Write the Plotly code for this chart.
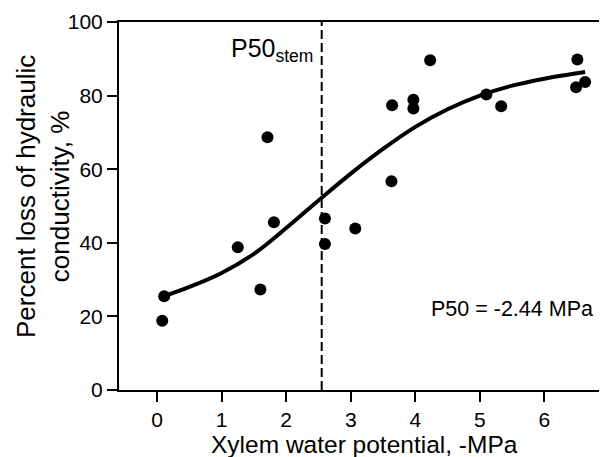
import plotly.graph_objects as go

# measured points (xylem water potential, -MPa / percent loss of conductivity)
psi = [0.08, 0.11, 1.25, 1.60, 1.71, 1.81, 2.60, 2.60, 3.07, 3.63, 3.64,
       3.97, 3.97, 4.23, 5.10, 5.33, 6.49, 6.51, 6.63]
plc = [18.8, 25.5, 38.8, 27.3, 68.7, 45.6, 46.6, 39.7, 43.9, 56.7, 77.4,
       78.9, 76.5, 89.6, 80.3, 77.1, 82.3, 89.8, 83.7]

# fitted curve
fit_x = [0.11, 0.5, 1.0, 1.5, 2.0, 2.5, 3.0, 3.5, 4.0, 4.5, 5.0, 5.5, 6.0, 6.63]
fit_y = [25.5, 28.0, 31.8, 37.0, 44.0, 51.5, 58.8, 65.5, 71.5, 76.3, 80.0, 82.7, 84.6, 86.4]

p50_x = [2.55, 2.55]
p50_y = [0, 100]

font = "Liberation Sans, Arial, sans-serif"

fig = go.Figure()
fig.add_scatter(x=p50_x, y=p50_y, mode="lines",
                line=dict(color="black", width=2, dash="9px,4px"))
fig.add_scatter(x=fit_x, y=fit_y, mode="lines",
                line=dict(color="black", width=4, shape="spline"))
fig.add_scatter(x=psi, y=plc, mode="markers",
                marker=dict(color="black", size=12))

fig.add_annotation(x=2.44, y=92.5, xref="x", yref="y", xanchor="right", yanchor="middle",
                   text="P50<sub>stem</sub>", showarrow=False,
                   font=dict(family=font, size=25, color="black"))
fig.add_annotation(x=6.78, y=22, xref="x", yref="y", xanchor="right", yanchor="middle",
                   text="P50 = -2.44 MPa", showarrow=False,
                   font=dict(family=font, size=21.5, color="black"))

# axis titles as annotations so they sit where the original has them
fig.add_annotation(x=0.5, y=0, xref="paper", yref="paper", xanchor="center", yanchor="middle",
                   yshift=-54, text="Xylem water potential, -MPa", showarrow=False,
                   borderpad=0, font=dict(family=font, size=24.5, color="black"))
fig.add_annotation(x=0, y=0.5, xref="paper", yref="paper", xanchor="center", yanchor="middle",
                   xshift=-76, yshift=9, textangle=-90,
                   text="Percent loss of hydraulic<br>conductivity, %", showarrow=False,
                   font=dict(family=font, size=26, color="black"))

axis_style = dict(showline=True, linecolor="black", linewidth=2, mirror=True,
                  ticks="outside", ticklen=10, tickwidth=2, tickcolor="black",
                  showgrid=False, zeroline=False, automargin=False,
                  tickfont=dict(family=font, size=21, color="black"))

fig.update_xaxes(range=[-0.59, 7.0], tickvals=[0, 1, 2, 3, 4, 5, 6, 7], **axis_style)
fig.update_yaxes(range=[0, 100], tickvals=[0, 20, 40, 60, 80, 100], **axis_style)

fig.update_layout(width=607, height=457, showlegend=False,
                  plot_bgcolor="white", paper_bgcolor="white",
                  margin=dict(l=111, r=6, t=14, b=75))

fig.write_html("out.html")
